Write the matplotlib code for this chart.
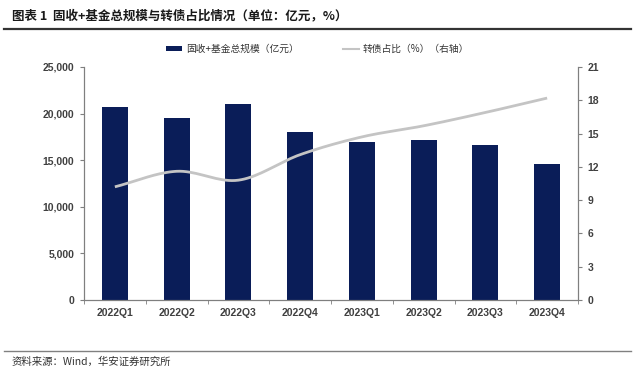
import matplotlib
matplotlib.use("Agg")
import matplotlib.pyplot as plt
import numpy as np
from matplotlib.lines import Line2D
from matplotlib.patches import Patch

plt.rcParams['font.family'] = ['Noto Sans CJK SC', 'DejaVu Sans']

quarters = ["2022Q1", "2022Q2", "2022Q3", "2022Q4", "2023Q1", "2023Q2", "2023Q3", "2023Q4"]
fund_size = [20700, 19500, 21000, 18000, 17000, 17150, 16600, 14550]  # 亿元
cb_share = [10.2, 11.6, 10.8, 13.1, 14.7, 15.7, 16.9, 18.2]  # %

bar_color = "#0a1d58"
line_color = "#c4c4c4"
axis_color = "#7f7f7f"
tick_font = dict(family="Liberation Sans", fontsize=7.5, fontweight="bold", color="#404040")


def smooth(xs, ys, n=20):
    # catmull-rom style smoothing, like excel's smoothed line
    xs = np.asarray(xs, float)
    ys = np.asarray(ys, float)
    px = np.concatenate([[2 * xs[0] - xs[1]], xs, [2 * xs[-1] - xs[-2]]])
    py = np.concatenate([[2 * ys[0] - ys[1]], ys, [2 * ys[-1] - ys[-2]]])
    out_x, out_y = [], []
    t = np.linspace(0, 1, n)
    for i in range(1, len(px) - 2):
        for p, o in ((px, out_x), (py, out_y)):
            p0, p1, p2, p3 = p[i - 1], p[i], p[i + 1], p[i + 2]
            seg = 0.5 * ((2 * p1) + (-p0 + p2) * t + (2 * p0 - 5 * p1 + 4 * p2 - p3) * t ** 2
                         + (-p0 + 3 * p1 - 3 * p2 + p3) * t ** 3)
            o.extend(seg)
    return out_x, out_y


fig = plt.figure(figsize=(6.35, 3.77), dpi=100)
ax = fig.add_axes([84 / 635, 1 - 300 / 377, 494 / 635, 233 / 377])
ax2 = ax.twinx()

x = np.arange(len(quarters))
ax.bar(x, fund_size, width=0.42, color=bar_color, zorder=2)
sx, sy = smooth(x, cb_share)
ax2.plot(sx, sy, color=line_color, lw=2, solid_capstyle="butt", zorder=3)

ax.set_xlim(-0.5, len(quarters) - 0.5)
ax.set_ylim(0, 25000)
ax.set_yticks(np.arange(0, 25001, 5000))
ax.set_yticklabels([f"{v:,}" for v in range(0, 25001, 5000)], **tick_font)
ax.set_xticks(x)
ax.set_xticklabels(quarters, **tick_font)
ax.set_xticks(np.arange(-0.5, len(quarters), 1), minor=True)
ax.tick_params(axis="x", which="major", length=0, pad=6)
ax.tick_params(axis="x", which="minor", length=3, color=axis_color, direction="out")
ax.tick_params(axis="y", length=3, color=axis_color, pad=4)

ax2.set_ylim(0, 21)
ax2.set_yticks(np.arange(0, 22, 3))
ax2.set_yticklabels([str(v) for v in range(0, 22, 3)], **tick_font)
ax2.tick_params(axis="y", length=3, color=axis_color, pad=4)

for a in (ax, ax2):
    a.spines["top"].set_visible(False)
    for s in ("left", "right", "bottom"):
        a.spines[s].set_color(axis_color)
        a.spines[s].set_linewidth(0.8)
    a.set_facecolor("none")
ax.set_zorder(1)
ax2.set_zorder(2)

# legend
handles = [Patch(facecolor=bar_color), Line2D([0], [0], color=line_color, lw=1.5)]
labels = ["固收+基金总规模（亿元）", "转债占比（%）（右轴）"]
fig.legend(handles, labels, loc="center", bbox_to_anchor=(0.5, 1 - 49 / 377), ncol=2,
           frameon=False, fontsize=7, handlelength=1.7, handleheight=0.35,
           columnspacing=4.5, handletextpad=0.4, labelcolor="#333333")

# title, rules and source
fig.text(12 / 635, 1 - 16 / 377, "图表 1  固收+基金总规模与转债占比情况（单位：亿元，%）",
         fontsize=9, fontweight="bold", color="#1a1a1a", va="center", ha="left")
fig.add_artist(Line2D([4 / 635, 631 / 635], [1 - 29 / 377] * 2, color="#333333", lw=1.6,
                      transform=fig.transFigure))
fig.add_artist(Line2D([4 / 635, 631 / 635], [1 - 351 / 377] * 2, color="#808080", lw=1,
                      transform=fig.transFigure))
fig.text(12 / 635, 1 - 362 / 377, "资料来源：Wind，华安证券研究所",
         fontsize=7.5, color="#333333", va="center", ha="left")

fig.savefig("out.png", dpi=100)
